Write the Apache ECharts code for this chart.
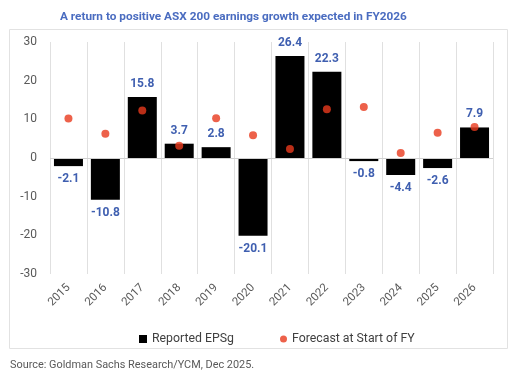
<!DOCTYPE html>
<html><head><meta charset="utf-8">
<script src="https://cdn.jsdelivr.net/npm/echarts@6/dist/echarts.min.js"></script>
<style>html,body{margin:0;padding:0;background:#fff}#c{width:518px;height:376px}</style>
</head><body><div id="c"></div>
<script>
const years = ['2015','2016','2017','2018','2019','2020','2021','2022','2023','2024','2025','2026'];
const reportedEPSg = [-2.1,-10.8,15.8,3.7,2.8,-20.1,26.4,22.3,-0.8,-4.4,-2.6,7.9];
const forecastStartFY = [10.2,6.3,12.3,3.2,10.3,5.9,2.3,12.6,13.2,1.3,6.5,8.0];
const yTicks = {min:-30,max:30,interval:10};

const chart = echarts.init(document.getElementById('c'));
const F = 'Roboto, "Noto Sans", sans-serif';
chart.setOption({
  animation:false,
  backgroundColor:'#fff',
  textStyle:{fontFamily:F},
  title:{text:'A return to positive ASX 200 earnings growth expected in FY2026',left:55,top:6,
    textStyle:{fontSize:11.8,fontWeight:'bold',color:'#4a6cc0',fontFamily:F}},
  graphic:[
    {type:'rect',shape:{x:9.5,y:29.5,width:498,height:319},style:{fill:'none',stroke:'#e2e2e2',lineWidth:1},z:-1},
    {type:'text',left:10,top:360,style:{text:'Source: Goldman Sachs Research/YCM, Dec 2025.',fill:'#595959',font:'10.9px '+F}}
  ],
  legend:[
    {top:328,left:134,itemWidth:8,itemHeight:8,itemGap:0,
      textStyle:{fontSize:12.3,color:'#404040',fontFamily:F},
      data:[{name:'Reported EPSg',icon:'rect'}]},
    {top:328,left:275,itemWidth:7,itemHeight:7,itemGap:0,
      textStyle:{fontSize:12.3,color:'#404040',fontFamily:F},
      data:[{name:'Forecast at Start of FY',icon:'circle'}]}
  ],
  grid:{left:50,right:25,top:42,bottom:102},
  xAxis:{type:'category',data:years,boundaryGap:true,
    axisLine:{show:false},axisTick:{show:false},
    splitLine:{show:true,lineStyle:{color:'#e0e0e0',width:1}},
    axisLabel:{rotate:45,color:'#595959',fontSize:11.5,margin:12,interval:0}},
  yAxis:{type:'value',min:yTicks.min,max:yTicks.max,interval:yTicks.interval,
    axisLine:{show:false},axisTick:{show:false},splitLine:{show:false},
    axisLabel:{color:'#595959',fontSize:12,margin:13}},
  series:[
    {name:'Reported EPSg',type:'bar',barWidth:29,
      data:reportedEPSg.map(v=>({value:v,label:{position:v<0?'bottom':'top'}})),
      itemStyle:{color:'#000'},
      label:{show:true,color:'#3f5fb0',fontWeight:'bold',fontSize:12,
        formatter:p=>p.value.toFixed(1),distance:7},
      markLine:{silent:true,symbol:'none',label:{show:false},lineStyle:{color:'#d0d0d0',type:'solid',width:1},data:[{yAxis:0}]},
      z:2},
    {name:'Forecast at Start of FY',type:'scatter',data:forecastStartFY,symbolSize:8,
      itemStyle:{color:'#e8391d'},z:3}
  ]
});
</script></body></html>
